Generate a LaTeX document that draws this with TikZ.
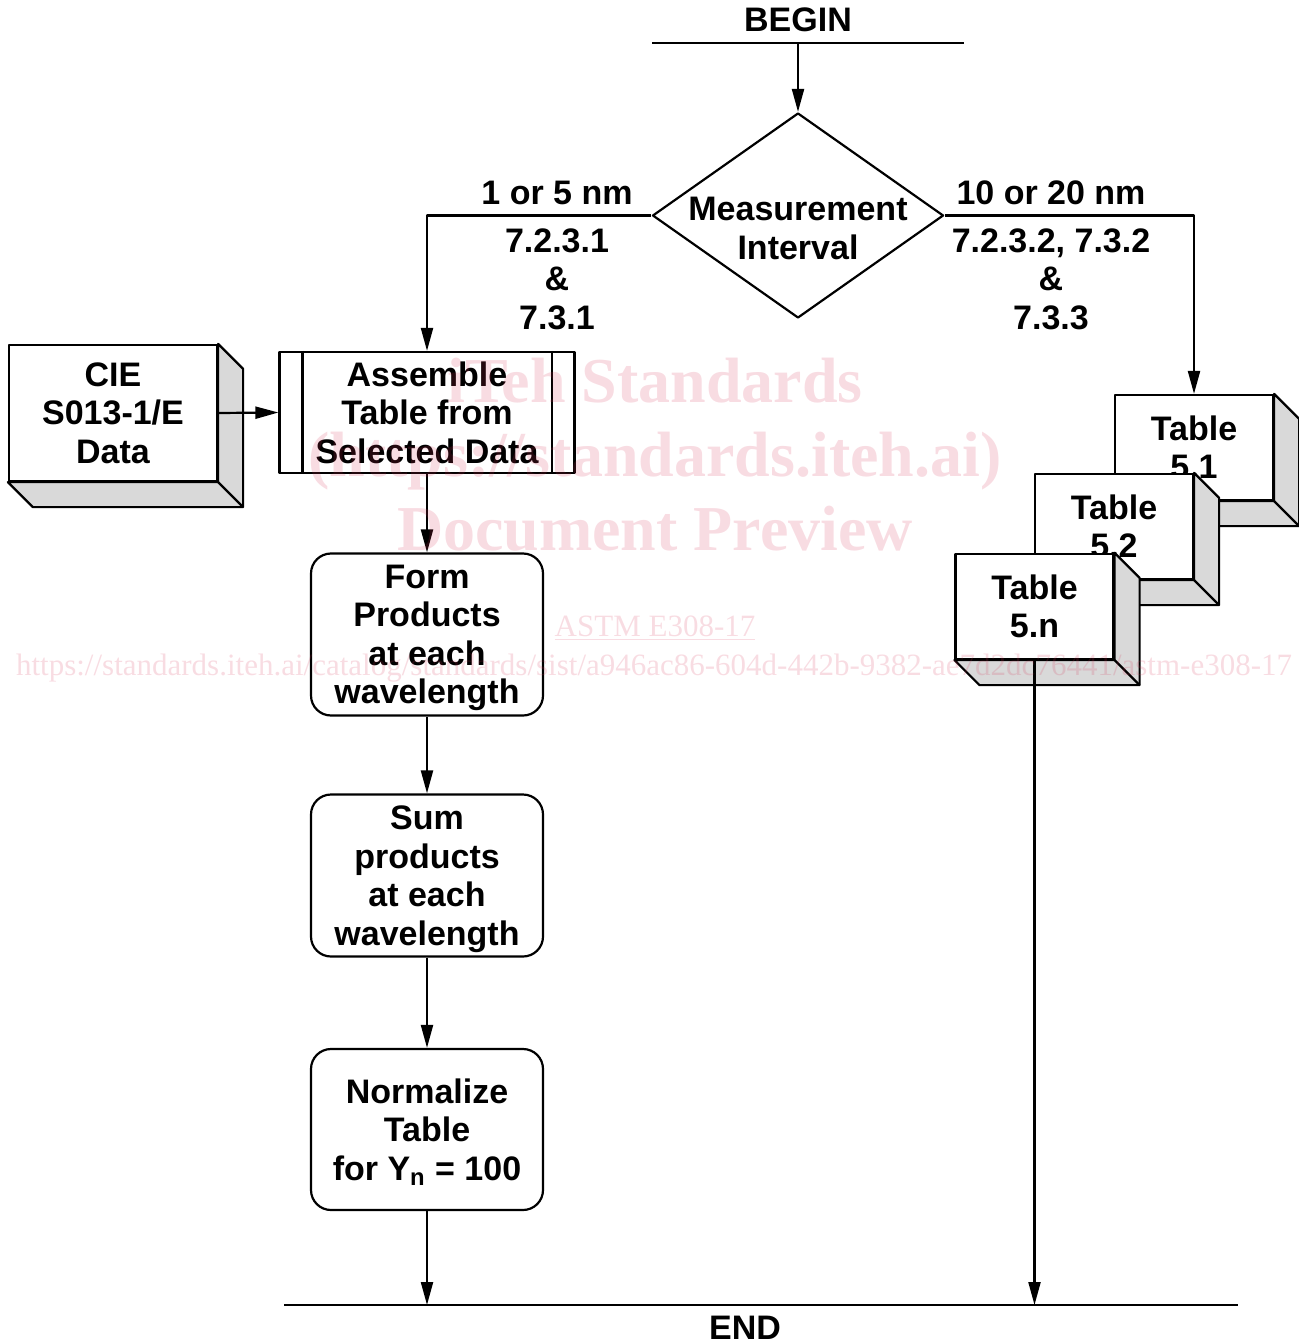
\documentclass[tikz,border=0pt]{standalone}
\usepackage{fontspec}
\setmainfont{Liberation Sans}
\newfontfamily\markfont{Liberation Serif}
\usetikzlibrary{arrows.meta, shapes.geometric, positioning}
\definecolor{shade_gray}{RGB}{217,217,217}
\definecolor{mark_red}{RGB}{214,49,84}
\newcommand{\boxdepth}[1]{%
	\filldraw[fill=shade_gray] (#1.north east) -- ([shift={(25,25)}]#1.north east)
		-- ([shift={(25,25)}]#1.south east) -- ([shift={(25,25)}]#1.south west)
		-- (#1.south west) -- (#1.south east) -- cycle;
	\draw (#1.south east) -- ([shift={(25,25)}]#1.south east);}

\begin{document}
\begin{tikzpicture}[x=0.5pt, y=-0.5pt, line width=1.1pt, line join=round,
	every node/.style={font=\bfseries\fontsize{17}{19.25}\selectfont, align=center, inner sep=0pt},
	>={Triangle[length=11.5pt,width=6pt]},
	databox/.style={draw, fill=white, minimum width=104pt, minimum height=68pt},
	tablebox/.style={draw, fill=white, minimum width=79pt, minimum height=52.5pt},
	procbox/.style={draw, fill=white, minimum width=147.5pt, minimum height=60.5pt},
	roundbox/.style={draw, fill=white, rounded corners=10pt, minimum width=116pt, minimum height=81pt, text depth=0pt},
	decision/.style={draw, diamond, minimum width=145.5pt, minimum height=102.5pt},
	watermark/.style={text=mark_red, text opacity=0.17, font=\markfont\bfseries\fontsize{32}{32}\selectfont},
	smallmark/.style={watermark, font=\markfont\fontsize{15.5}{15.5}\selectfont}]
	\useasboundingbox (0,0) rectangle (1299,1342);

	\node (begin) at (798,20) {BEGIN};
	\draw (652,43) -- (964,43);
	\coordinate (beginbar) at (798,43);

	\node[decision] (interval) at (798,215.5) {};
	\node (intervaltext) at (798,228.5) {Measurement\\Interval};

	\node (leftnm) at (557,193) {1 or 5 nm};
	\node (leftref) at (557,279) {7.2.3.1\\\&\\7.3.1};
	\node (rightnm) at (1051,193) {10 or 20 nm};
	\node (rightref) at (1051,279) {7.2.3.2, 7.3.2\\\&\\7.3.3};

	\node[databox] (cie) at (113,413) {CIE\\S013-1/E\\Data};
	\boxdepth{cie}

	\node[procbox] (assemble) at (427,412.5) {Assemble\\Table from\\Selected Data};
	\draw ([shift={(24,0)}]assemble.north west) -- ([shift={(24,0)}]assemble.south west);
	\draw ([shift={(-24,0)}]assemble.north east) -- ([shift={(-24,0)}]assemble.south east);

	\node[roundbox] (form) at (427,634.5) {Form\\Products\\at each\\wavelength};
	\node[roundbox] (sum) at (427,875.5) {Sum\\products\\at each\\wavelength};
	\node[roundbox, minimum height=80.5pt] (normalize) at (427,1129.5) {Normalize\\Table\\for Y\textsubscript{n} = 100};

	\foreach \name/\x/\y/\num in {tableone/1194/447.5/5.1, tabletwo/1114/526.5/5.2, tablen/1034.5/606.5/5.n}
	{
		\node[tablebox] (\name) at (\x,\y) {Table\\\num};
		\boxdepth{\name}
	}

	\draw (284,1305) -- (1238,1305);
	\coordinate (endbar) at (745,1305);
	\node (end) at (745,1328) {END};

	\draw[->] (beginbar) -- (interval.north);
	\draw[->] (interval.west) -| (assemble.north);
	\draw[->] (interval.east) -| (tableone.north);
	\draw[->] (cie.east) -- (assemble.west);
	\foreach \a/\b in {assemble/form, form/sum, sum/normalize}
		\draw[->] (\a) -- (\b);
	\draw[->] (normalize) -- (normalize |- endbar);
	\draw[->] (tablen) -- (tablen |- endbar);

	\node[watermark] (markone) at (655,381) {iTeh Standards};
	\node[watermark] (marktwo) at (655,461) {(https://standards.iteh.ai)};
	\node[watermark] (markthree) at (655,529) {Document Preview};
	\node[smallmark] (markfour) at (655,628) {\underline{ASTM E308-17}};
	\node[smallmark] (markfive) at (654,668) {https://standards.iteh.ai/catalog/standards/sist/a946ac86-604d-442b-9382-ae7d2dc76441/astm-e308-17};
\end{tikzpicture}
\end{document}
